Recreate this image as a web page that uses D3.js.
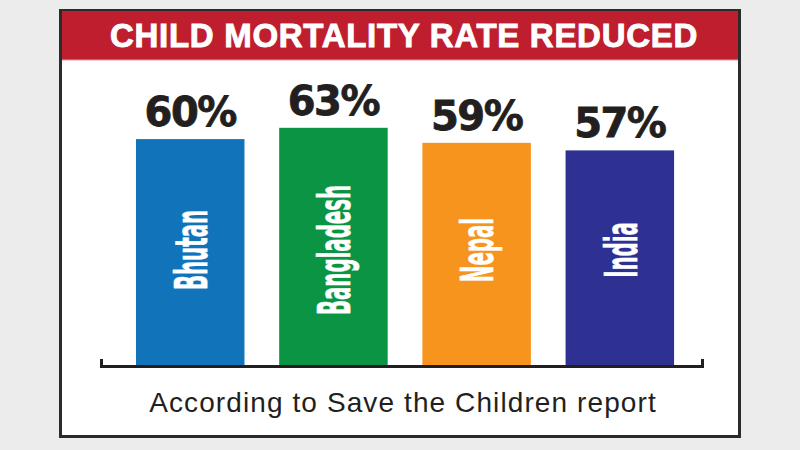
<!DOCTYPE html>
<html>
<head>
<meta charset="utf-8">
<script src="https://cdn.jsdelivr.net/npm/d3@7"></script>
<style>
  html, body { margin: 0; padding: 0; background: #ececec; }
  svg { display: block; }
</style>
</head>
<body>
<svg id="chart" width="800" height="450"></svg>
<script>
// ---- data ----
const countries = ["Bhutan", "Bangladesh", "Nepal", "India"];
const values = [60, 63, 59, 57];
const valueLabels = ["60%", "63%", "59%", "57%"];
const barColors = ["#1174bb", "#0a9444", "#f7941d", "#2e3192"];
const title = "CHILD MORTALITY RATE REDUCED";
const source = "According to Save the Children report";

const svg = d3.select("#chart");
const W = 800, H = 450;

svg.append("rect").attr("width", W).attr("height", H).attr("fill", "#ececec");

// frame
const frame = { x: 60.5, y: 10.5, w: 679, h: 426 };
svg.append("rect")
  .attr("x", frame.x).attr("y", frame.y).attr("width", frame.w).attr("height", frame.h)
  .attr("fill", "#ffffff").attr("stroke", "#2b2b2b").attr("stroke-width", 3);

// title banner
svg.append("rect")
  .attr("x", 62).attr("y", 11).attr("width", 676).attr("height", 49)
  .attr("fill", "#be1e2d");
svg.append("rect")
  .attr("x", 62).attr("y", 59.5).attr("width", 676).attr("height", 1)
  .attr("fill", "#e79aa2");
svg.append("text")
  .attr("x", 404).attr("y", 47)
  .attr("text-anchor", "middle")
  .attr("font-family", "Liberation Sans, Arial, sans-serif")
  .attr("font-weight", "bold")
  .attr("font-size", 33)
  .attr("letter-spacing", 0.7)
  .attr("fill", "#ffffff")
  .attr("stroke", "#ffffff").attr("stroke-width", 0.9)
  .text(title);

// scales
const x = d3.scaleBand()
  .domain(countries)
  .range([101, 702])
  .paddingInner(0.2423)
  .paddingOuter(0.2196)
  .align(0.556);

const y = d3.scaleLinear()
  .domain([0, 63])
  .range([365, 127.8]);

const data = countries.map((c, i) => ({ c, v: values[i], label: valueLabels[i], color: barColors[i] }));

// bars
svg.append("g").selectAll("rect")
  .data(data).join("rect")
  .attr("x", d => x(d.c))
  .attr("y", d => y(d.v))
  .attr("width", x.bandwidth())
  .attr("height", d => y(0) - y(d.v))
  .attr("fill", d => d.color);

// value labels
svg.append("g").selectAll("text")
  .data(data).join("text")
  .attr("x", d => x(d.c) + x.bandwidth() / 2)
  .attr("y", d => y(d.v) - 13)
  .attr("text-anchor", "middle")
  .attr("font-family", "DejaVu Sans, sans-serif")
  .attr("font-weight", "bold")
  .attr("font-size", 40)
  .attr("letter-spacing", -1.5)
  .attr("fill", "#231f20")
  .attr("stroke", "#231f20").attr("stroke-width", 0.8)
  .text(d => d.label);

// rotated country labels inside bars
svg.append("g").selectAll("text")
  .data(data).join("text")
  .attr("transform", d => `translate(${x(d.c) + x.bandwidth() / 2 + 1},250) rotate(-90) scale(0.5,1)`)
  .attr("text-anchor", "middle")
  .attr("dy", "0.36em")
  .attr("font-family", "DejaVu Sans Condensed, DejaVu Sans, sans-serif")
  .attr("font-weight", "bold")
  .attr("font-size", 44)
  .attr("fill", "#ffffff")
  .attr("stroke", "#ffffff").attr("stroke-width", 0.6)
  .text(d => d.c);

// baseline bracket axis
const axis = d3.axisBottom(x).tickValues([]).tickSizeOuter(-7);
const ag = svg.append("g").attr("transform", "translate(0,366)").call(axis);
ag.select(".domain").attr("stroke", "#231f20").attr("stroke-width", 3).attr("fill", "none");

// source note
svg.append("text")
  .attr("x", 403).attr("y", 412)
  .attr("text-anchor", "middle")
  .attr("font-family", "Liberation Sans, Arial, sans-serif")
  .attr("font-size", 28)
  .attr("letter-spacing", 1.1)
  .attr("fill", "#231f20")
  .text(source);
</script>
</body>
</html>
